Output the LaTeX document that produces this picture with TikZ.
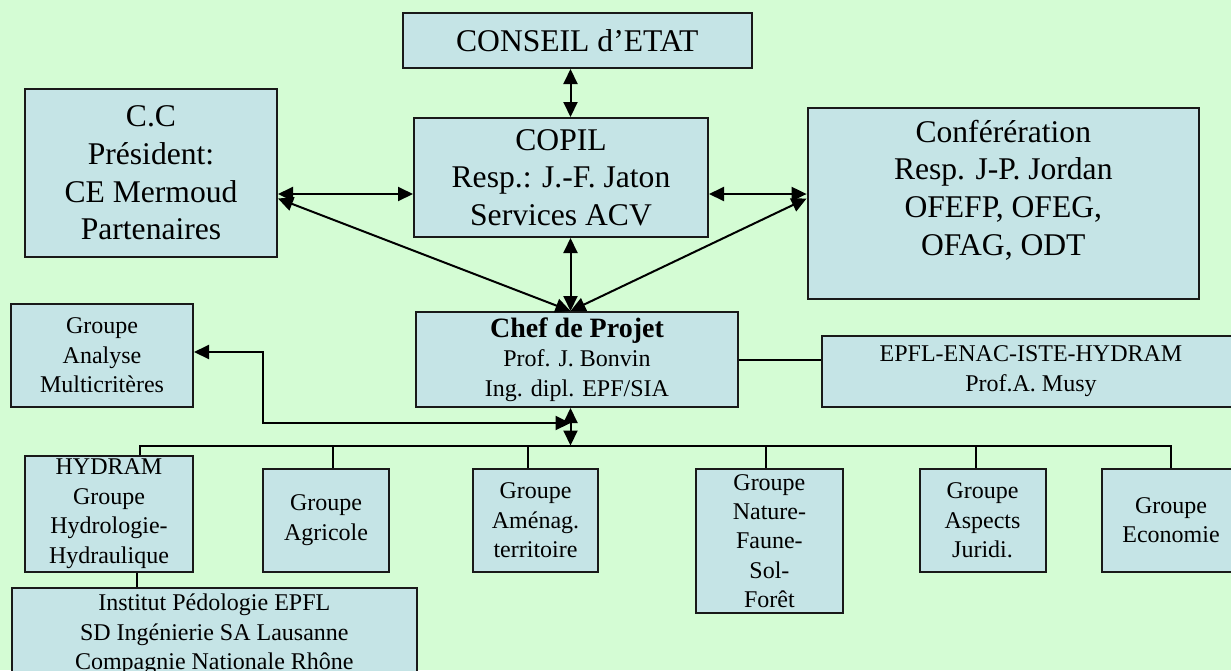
\documentclass[tikz,border=0pt]{standalone}
\usepackage{fontspec}
\setmainfont{Liberation Serif}
\usetikzlibrary{arrows.meta}
\definecolor{bggreen}{RGB}{212,252,212}
\definecolor{boxblue}{RGB}{197,228,230}
\tikzset{
  box/.style={draw=black!90, fill=boxblue, line width=1pt, align=center, inner sep=0pt},
  big/.style={font=\fontsize{15.8}{18.85}\selectfont},
  small/.style={font=\fontsize{12}{14.7}\selectfont},
  link/.style={line width=1pt},
  both/.style={link, {Triangle[length=7.5pt,width=7pt]}-{Triangle[length=7.5pt,width=7pt]}},
}
\begin{document}
\begin{tikzpicture}[x=0.5pt, y=-0.5pt]
\useasboundingbox (0,0) rectangle (1231,670);
\clip (0,0) rectangle (1231,670);
\fill[bggreen] (0,0) rectangle (1231,670);

% upper level
\node[box, big, minimum width=174.8pt, minimum height=27.5pt] (conseil) at (577.3,40.5) {CONSEIL d’ETAT};
\node[box, big, minimum width=126pt, minimum height=84pt] (cc) at (151,173) {C.C\\Président:\\CE Mermoud\\Partenaires};
\node[box, big, minimum width=147pt, minimum height=59.5pt] (copil) at (561,177.5) {COPIL\\Resp.: J.-F. Jaton\\Services ACV};
\node[box, big, minimum width=195.7pt, minimum height=95.5pt] (conf) at (1003.3,203.5) {Conférération\\Resp. J-P. Jordan\\OFEFP, OFEG,\\OFAG, ODT\\[-3pt]~};

% project level
\node[box, small, minimum width=161pt, minimum height=47.5pt] (chef) at (577,359.5) {{\fontsize{14}{16}\selectfont\bfseries Chef de Projet}\\Prof. J. Bonvin\\Ing. dipl. EPF/SIA};
\node[box, small, minimum width=91pt, minimum height=51.5pt] (analyse) at (102,355.5) {Groupe\\Analyse\\Multicritères};
\node[box, small, minimum width=209pt, minimum height=35.4pt] (epfl) at (1031,371.3) {EPFL-ENAC-ISTE-HYDRAM\\Prof.A. Musy};

% groups
\node[box, small, minimum width=84pt, minimum height=58pt] (hydram) at (109,513.7) {HYDRAM\\Groupe\\Hydrologie-\\Hydraulique};
\node[box, small, minimum width=62.9pt, minimum height=51.4pt] (agricole) at (326,520.3) {Groupe\\Agricole};
\node[box, small, minimum width=62.5pt, minimum height=51.4pt] (amenag) at (535.5,520.3) {Groupe\\Aménag.\\territoire};
\node[box, small, minimum width=73.6pt, minimum height=72pt] (nature) at (769.4,541) {Groupe\\Nature-\\Faune-\\Sol-\\Forêt};
\node[box, small, minimum width=63pt, minimum height=51.4pt] (aspects) at (982.5,520.3) {Groupe\\Aspects\\Juridi.};
\node[box, small, minimum width=69.2pt, minimum height=51.4pt] (economie) at (1171,520.3) {Groupe\\Economie};
\node[box, small, minimum width=202.4pt, minimum height=46.7pt] (institut) at (214.3,634.3) {Institut Pédologie EPFL\\SD Ingénierie SA Lausanne\\Compagnie Nationale Rhône};

% helper points
\coordinate (mid) at (570.5,0);
\coordinate (row) at (0,194);
\coordinate (diag) at (0,198.5);
\coordinate (hook) at (263,352);
\coordinate (bend) at (263,423);
\coordinate (b1) at (140,445.5);
\coordinate (b2) at (333,445.5);
\coordinate (b3) at (528,445.5);
\coordinate (b4) at (766,445.5);
\coordinate (b5) at (975.8,445.5);
\coordinate (b6) at (1171,445.5);
\coordinate (hi) at (137,0);

% arrows
\draw[both] (conseil.south -| mid) -- (copil.north -| mid);
\draw[both] (cc.east |- row) -- (copil.west |- row);
\draw[both] (copil.east |- row) -- (conf.west |- row);
\draw[both] (cc.east |- diag) -- (chef.north -| mid);
\draw[both] (copil.south -| mid) -- (chef.north -| mid);
\draw[both] (conf.west |- diag) -- (chef.north -| mid);
\draw[both] (analyse.east |- hook) -- (hook) -- (bend) -- (bend -| mid);
\draw[both] (chef.south -| mid) -- (mid |- b1);

% lines
\draw[link] (chef.east) -- (chef.east -| epfl.west);
\draw[link] (b1 |- hydram.north) -- (b1) -- (b6) -- (b6 |- economie.north);
\draw[link] (b2) -- (b2 |- agricole.north);
\draw[link] (b3) -- (b3 |- amenag.north);
\draw[link] (b4) -- (b4 |- nature.north);
\draw[link] (b5) -- (b5 |- aspects.north);
\draw[link] (hydram.south -| hi) -- (institut.north -| hi);
\end{tikzpicture}
\end{document}
